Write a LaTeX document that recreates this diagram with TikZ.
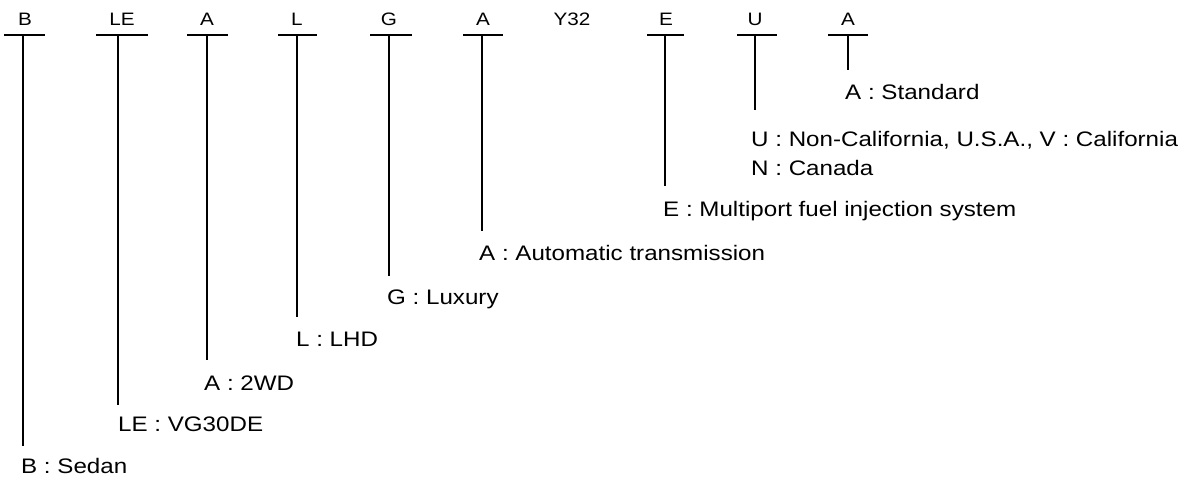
\documentclass[tikz,border=0pt]{standalone}
\usepackage{fontspec}
\newfontfamily\labfont[FakeStretch=1.15]{Liberation Sans}
\begin{document}
\begin{tikzpicture}[x=1pt,y=-1pt,
  code/.style={font=\labfont\fontsize{18}{22}\selectfont, inner sep=0pt, anchor=base},
  lab/.style={font=\labfont\fontsize{21}{25}\selectfont, inner sep=0pt, anchor=base west},
  bar/.style={line width=1.8pt},
  stem/.style={line width=1.6pt}]
\useasboundingbox (0,0) rectangle (1191,481);
% top code letters
\node[code] (tB)  at (25,26)  {B};
\node[code] (tLE) at (122,26) {LE};
\node[code] (tA1) at (207,26) {A};
\node[code] (tL)  at (297,26) {L};
\node[code] (tG)  at (389,26) {G};
\node[code] (tA2) at (483,26) {A};
\node[code] (tY)  at (572,26) {Y32};
\node[code] (tE)  at (666,26) {E};
\node[code] (tU)  at (755,26) {U};
\node[code] (tA3) at (848,26) {A};
% bars
\coordinate (bBl) at (4,35);   \coordinate (bBr) at (45,35);
\coordinate (bLEl) at (96,35); \coordinate (bLEr) at (148,35);
\coordinate (bA1l) at (187,35); \coordinate (bA1r) at (228,35);
\coordinate (bLl) at (278,35); \coordinate (bLr) at (317,35);
\coordinate (bGl) at (370,35); \coordinate (bGr) at (412,35);
\coordinate (bA2l) at (463,35); \coordinate (bA2r) at (503,35);
\coordinate (bEl) at (647,35); \coordinate (bEr) at (684,35);
\coordinate (bUl) at (737,35); \coordinate (bUr) at (777,35);
\coordinate (bA3l) at (828,35); \coordinate (bA3r) at (868,35);
\foreach \n in {B,LE,A1,L,G,A2,E,U,A3} { \draw[bar] (b\n l) -- (b\n r); }
% stems
\coordinate (sB)  at (23,35);  \coordinate (eB)  at (23,446);
\coordinate (sLE) at (118,35); \coordinate (eLE) at (118,405);
\coordinate (sA1) at (207,35); \coordinate (eA1) at (207,360);
\coordinate (sL)  at (297,35); \coordinate (eL)  at (297,317);
\coordinate (sG)  at (389,35); \coordinate (eG)  at (389,276);
\coordinate (sA2) at (482,35); \coordinate (eA2) at (482,231);
\coordinate (sE)  at (665,35); \coordinate (eE)  at (665,186);
\coordinate (sU)  at (755,35); \coordinate (eU)  at (755,110);
\coordinate (sA3) at (848,35); \coordinate (eA3) at (848,70);
\foreach \n in {B,LE,A1,L,G,A2,E,U} { \draw[stem] (s\n) -- (e\n); }
\draw[stem, line width=1.1pt] (sA3) -- (eA3);
% labels
\node[lab] (lB)  at (21,473)  {B : Sedan};
\node[lab] (lLE) at (118,431) {LE : VG30DE};
\node[lab] (lA1) at (204,390) {A : 2WD};
\node[lab] (lL)  at (296,346) {L : LHD};
\node[lab] (lG)  at (387,304) {G : Luxury};
\node[lab] (lA2) at (479,260) {A : Automatic transmission};
\node[lab] (lE)  at (663,216) {E : Multiport fuel injection system};
\node[lab] (lU)  at (751,147) {U : Non-California, U.S.A., V : California};
\node[lab] (lN)  at (751,176) {N : Canada};
\node[lab] (lA3) at (845,100) {A : Standard};
\end{tikzpicture}
\end{document}
